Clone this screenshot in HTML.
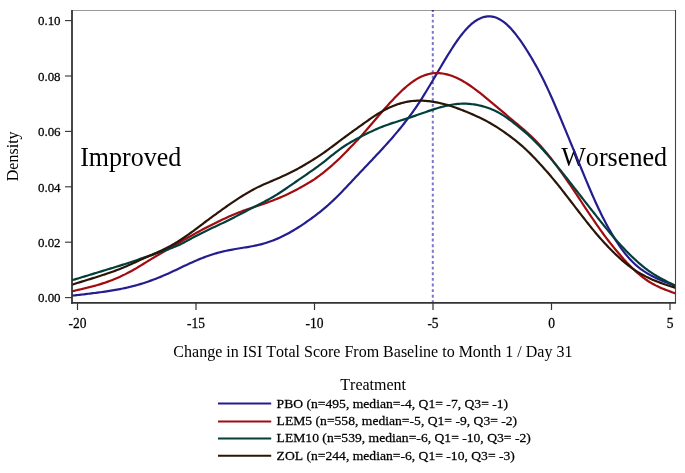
<!DOCTYPE html>
<html><head><meta charset="utf-8"><style>
html,body{margin:0;padding:0;background:#fff;width:685px;height:473px;overflow:hidden}
svg{display:block;will-change:transform}
.b{stroke:#000;stroke-width:0.25px}
.t{font-family:"Liberation Serif",serif;fill:#000;font-kerning:none}
</style></head><body>
<svg width="685" height="473" viewBox="0 0 685 473">
<rect width="685" height="473" fill="#fff"/>
<defs><clipPath id="c"><rect x="72" y="10" width="603.5" height="293"/></clipPath></defs>
<line x1="432.8" y1="10" x2="432.8" y2="303" stroke="#7a76cc" stroke-width="2" stroke-dasharray="2.9,2.714" stroke-dashoffset="1.56"/>
<text transform="translate(80.2,165.5) scale(1,1.035)" font-size="26" class="t">Improved</text>
<text transform="translate(561.2,165.5) scale(1.005,1.035)" font-size="26" class="t">Worsened</text>
<g clip-path="url(#c)" fill="none" stroke-width="2.2" stroke-linejoin="round">
<path d="M71.0,295.78 L72.0,295.67 L73.5,295.50 L75.0,295.33 L76.5,295.16 L78.0,294.99 L79.5,294.82 L81.0,294.65 L82.5,294.47 L84.0,294.30 L85.5,294.12 L87.0,293.94 L88.5,293.76 L90.0,293.58 L91.5,293.39 L93.0,293.21 L94.5,293.02 L96.0,292.82 L97.5,292.63 L99.0,292.43 L100.5,292.22 L102.0,292.02 L103.5,291.81 L105.0,291.59 L106.5,291.37 L108.0,291.14 L109.5,290.91 L111.0,290.67 L112.5,290.42 L114.0,290.17 L115.5,289.91 L117.0,289.64 L118.5,289.36 L120.0,289.08 L121.5,288.78 L123.0,288.48 L124.5,288.16 L126.0,287.84 L127.5,287.51 L129.0,287.16 L130.5,286.80 L132.0,286.43 L133.5,286.04 L135.0,285.64 L136.5,285.22 L138.0,284.80 L139.5,284.36 L141.0,283.90 L142.5,283.44 L144.0,282.96 L145.5,282.46 L147.0,281.96 L148.5,281.44 L150.0,280.91 L151.5,280.37 L153.0,279.82 L154.5,279.25 L156.0,278.68 L157.5,278.09 L159.0,277.49 L160.5,276.87 L162.0,276.25 L163.5,275.61 L165.0,274.96 L166.5,274.30 L168.0,273.63 L169.5,272.94 L171.0,272.26 L172.5,271.56 L174.0,270.86 L175.5,270.15 L177.0,269.44 L178.5,268.72 L180.0,268.01 L181.5,267.29 L183.0,266.58 L184.5,265.86 L186.0,265.16 L187.5,264.45 L189.0,263.75 L190.5,263.06 L192.0,262.38 L193.5,261.71 L195.0,261.05 L196.5,260.40 L198.0,259.76 L199.5,259.14 L201.0,258.53 L202.5,257.93 L204.0,257.35 L205.5,256.79 L207.0,256.24 L208.5,255.71 L210.0,255.20 L211.5,254.71 L213.0,254.23 L214.5,253.77 L216.0,253.33 L217.5,252.91 L219.0,252.50 L220.5,252.11 L222.0,251.74 L223.5,251.39 L225.0,251.05 L226.5,250.72 L228.0,250.41 L229.5,250.11 L231.0,249.83 L232.5,249.55 L234.0,249.28 L235.5,249.02 L237.0,248.76 L238.5,248.51 L240.0,248.26 L241.5,248.01 L243.0,247.77 L244.5,247.53 L246.0,247.29 L247.5,247.04 L249.0,246.79 L250.5,246.53 L252.0,246.26 L253.5,245.98 L255.0,245.68 L256.5,245.37 L258.0,245.04 L259.5,244.68 L261.0,244.31 L262.5,243.91 L264.0,243.49 L265.5,243.04 L267.0,242.58 L268.5,242.08 L270.0,241.57 L271.5,241.03 L273.0,240.47 L274.5,239.88 L276.0,239.27 L277.5,238.63 L279.0,237.97 L280.5,237.29 L282.0,236.58 L283.5,235.85 L285.0,235.09 L286.5,234.31 L288.0,233.51 L289.5,232.68 L291.0,231.83 L292.5,230.96 L294.0,230.07 L295.5,229.16 L297.0,228.23 L298.5,227.28 L300.0,226.31 L301.5,225.32 L303.0,224.32 L304.5,223.30 L306.0,222.27 L307.5,221.22 L309.0,220.16 L310.5,219.08 L312.0,217.99 L313.5,216.89 L315.0,215.77 L316.5,214.63 L318.0,213.47 L319.5,212.29 L321.0,211.10 L322.5,209.88 L324.0,208.63 L325.5,207.36 L327.0,206.06 L328.5,204.74 L330.0,203.38 L331.5,202.00 L333.0,200.59 L334.5,199.16 L336.0,197.70 L337.5,196.22 L339.0,194.72 L340.5,193.20 L342.0,191.67 L343.5,190.11 L345.0,188.54 L346.5,186.96 L348.0,185.37 L349.5,183.78 L351.0,182.18 L352.5,180.57 L354.0,178.97 L355.5,177.37 L357.0,175.77 L358.5,174.17 L360.0,172.57 L361.5,170.98 L363.0,169.39 L364.5,167.81 L366.0,166.22 L367.5,164.64 L369.0,163.06 L370.5,161.48 L372.0,159.90 L373.5,158.31 L375.0,156.71 L376.5,155.11 L378.0,153.51 L379.5,151.89 L381.0,150.28 L382.5,148.66 L384.0,147.02 L385.5,145.38 L387.0,143.72 L388.5,142.05 L390.0,140.36 L391.5,138.65 L393.0,136.92 L394.5,135.16 L396.0,133.39 L397.5,131.60 L399.0,129.78 L400.5,127.95 L402.0,126.09 L403.5,124.21 L405.0,122.30 L406.5,120.37 L408.0,118.40 L409.5,116.40 L411.0,114.37 L412.5,112.30 L414.0,110.19 L415.5,108.04 L417.0,105.84 L418.5,103.59 L420.0,101.31 L421.5,98.97 L423.0,96.60 L424.5,94.19 L426.0,91.74 L427.5,89.27 L429.0,86.78 L430.5,84.26 L432.0,81.73 L433.5,79.19 L435.0,76.64 L436.5,74.08 L438.0,71.53 L439.5,68.98 L441.0,66.44 L442.5,63.91 L444.0,61.40 L445.5,58.91 L447.0,56.44 L448.5,53.99 L450.0,51.59 L451.5,49.22 L453.0,46.90 L454.5,44.62 L456.0,42.41 L457.5,40.25 L459.0,38.16 L460.5,36.15 L462.0,34.21 L463.5,32.36 L465.0,30.59 L466.5,28.91 L468.0,27.33 L469.5,25.85 L471.0,24.46 L472.5,23.18 L474.0,22.01 L475.5,20.95 L477.0,19.99 L478.5,19.15 L480.0,18.41 L481.5,17.79 L483.0,17.28 L484.5,16.88 L486.0,16.60 L487.5,16.43 L489.0,16.37 L490.5,16.43 L492.0,16.61 L493.5,16.90 L495.0,17.31 L496.5,17.83 L498.0,18.47 L499.5,19.23 L501.0,20.10 L502.5,21.08 L504.0,22.17 L505.5,23.37 L507.0,24.68 L508.5,26.10 L510.0,27.61 L511.5,29.23 L513.0,30.93 L514.5,32.73 L516.0,34.61 L517.5,36.57 L519.0,38.60 L520.5,40.70 L522.0,42.87 L523.5,45.09 L525.0,47.38 L526.5,49.72 L528.0,52.11 L529.5,54.56 L531.0,57.05 L532.5,59.60 L534.0,62.20 L535.5,64.85 L537.0,67.57 L538.5,70.34 L540.0,73.18 L541.5,76.09 L543.0,79.06 L544.5,82.10 L546.0,85.21 L547.5,88.39 L549.0,91.64 L550.5,94.94 L552.0,98.31 L553.5,101.73 L555.0,105.20 L556.5,108.70 L558.0,112.23 L559.5,115.80 L561.0,119.38 L562.5,122.97 L564.0,126.58 L565.5,130.19 L567.0,133.81 L568.5,137.44 L570.0,141.07 L571.5,144.72 L573.0,148.36 L574.5,152.01 L576.0,155.67 L577.5,159.32 L579.0,162.98 L580.5,166.64 L582.0,170.29 L583.5,173.93 L585.0,177.55 L586.5,181.15 L588.0,184.72 L589.5,188.26 L591.0,191.75 L592.5,195.20 L594.0,198.59 L595.5,201.93 L597.0,205.21 L598.5,208.42 L600.0,211.57 L601.5,214.65 L603.0,217.66 L604.5,220.60 L606.0,223.47 L607.5,226.26 L609.0,228.97 L610.5,231.62 L612.0,234.18 L613.5,236.68 L615.0,239.09 L616.5,241.44 L618.0,243.71 L619.5,245.91 L621.0,248.04 L622.5,250.09 L624.0,252.07 L625.5,253.98 L627.0,255.80 L628.5,257.55 L630.0,259.21 L631.5,260.80 L633.0,262.31 L634.5,263.74 L636.0,265.10 L637.5,266.39 L639.0,267.62 L640.5,268.78 L642.0,269.88 L643.5,270.93 L645.0,271.92 L646.5,272.87 L648.0,273.77 L649.5,274.64 L651.0,275.46 L652.5,276.25 L654.0,277.01 L655.5,277.74 L657.0,278.45 L658.5,279.13 L660.0,279.79 L661.5,280.43 L663.0,281.05 L664.5,281.66 L666.0,282.26 L667.5,282.84 L669.0,283.42 L670.5,283.99 L672.0,284.55 L673.5,285.12 L675.0,285.68 L676.5,286.24" stroke="#231d8e"/>
<path d="M71.0,291.55 L72.0,291.32 L73.5,290.98 L75.0,290.63 L76.5,290.29 L78.0,289.94 L79.5,289.59 L81.0,289.24 L82.5,288.89 L84.0,288.53 L85.5,288.17 L87.0,287.80 L88.5,287.43 L90.0,287.05 L91.5,286.66 L93.0,286.26 L94.5,285.86 L96.0,285.44 L97.5,285.01 L99.0,284.57 L100.5,284.12 L102.0,283.65 L103.5,283.17 L105.0,282.67 L106.5,282.16 L108.0,281.63 L109.5,281.08 L111.0,280.52 L112.5,279.94 L114.0,279.34 L115.5,278.73 L117.0,278.09 L118.5,277.43 L120.0,276.76 L121.5,276.07 L123.0,275.35 L124.5,274.62 L126.0,273.87 L127.5,273.10 L129.0,272.31 L130.5,271.50 L132.0,270.67 L133.5,269.82 L135.0,268.96 L136.5,268.08 L138.0,267.19 L139.5,266.29 L141.0,265.37 L142.5,264.45 L144.0,263.52 L145.5,262.60 L147.0,261.68 L148.5,260.76 L150.0,259.84 L151.5,258.93 L153.0,258.02 L154.5,257.12 L156.0,256.23 L157.5,255.35 L159.0,254.47 L160.5,253.61 L162.0,252.74 L163.5,251.88 L165.0,251.02 L166.5,250.15 L168.0,249.28 L169.5,248.41 L171.0,247.54 L172.5,246.66 L174.0,245.78 L175.5,244.91 L177.0,244.03 L178.5,243.15 L180.0,242.26 L181.5,241.39 L183.0,240.51 L184.5,239.64 L186.0,238.77 L187.5,237.91 L189.0,237.05 L190.5,236.19 L192.0,235.34 L193.5,234.50 L195.0,233.66 L196.5,232.83 L198.0,232.01 L199.5,231.19 L201.0,230.38 L202.5,229.58 L204.0,228.78 L205.5,227.99 L207.0,227.21 L208.5,226.44 L210.0,225.68 L211.5,224.92 L213.0,224.17 L214.5,223.44 L216.0,222.70 L217.5,221.98 L219.0,221.26 L220.5,220.54 L222.0,219.81 L223.5,219.10 L225.0,218.39 L226.5,217.69 L228.0,217.01 L229.5,216.33 L231.0,215.67 L232.5,215.03 L234.0,214.39 L235.5,213.78 L237.0,213.18 L238.5,212.59 L240.0,212.02 L241.5,211.45 L243.0,210.90 L244.5,210.36 L246.0,209.83 L247.5,209.30 L249.0,208.78 L250.5,208.26 L252.0,207.75 L253.5,207.24 L255.0,206.74 L256.5,206.23 L258.0,205.73 L259.5,205.22 L261.0,204.71 L262.5,204.20 L264.0,203.68 L265.5,203.16 L267.0,202.63 L268.5,202.09 L270.0,201.54 L271.5,200.98 L273.0,200.41 L274.5,199.83 L276.0,199.24 L277.5,198.63 L279.0,198.01 L280.5,197.38 L282.0,196.73 L283.5,196.06 L285.0,195.38 L286.5,194.68 L288.0,193.97 L289.5,193.24 L291.0,192.51 L292.5,191.75 L294.0,190.99 L295.5,190.21 L297.0,189.42 L298.5,188.61 L300.0,187.80 L301.5,186.97 L303.0,186.14 L304.5,185.29 L306.0,184.42 L307.5,183.54 L309.0,182.64 L310.5,181.72 L312.0,180.77 L313.5,179.80 L315.0,178.79 L316.5,177.76 L318.0,176.70 L319.5,175.61 L321.0,174.49 L322.5,173.34 L324.0,172.16 L325.5,170.95 L327.0,169.72 L328.5,168.46 L330.0,167.17 L331.5,165.86 L333.0,164.52 L334.5,163.16 L336.0,161.77 L337.5,160.36 L339.0,158.92 L340.5,157.45 L342.0,155.97 L343.5,154.46 L345.0,152.94 L346.5,151.41 L348.0,149.87 L349.5,148.33 L351.0,146.78 L352.5,145.23 L354.0,143.67 L355.5,142.11 L357.0,140.52 L358.5,138.92 L360.0,137.30 L361.5,135.65 L363.0,133.97 L364.5,132.27 L366.0,130.54 L367.5,128.80 L369.0,127.05 L370.5,125.29 L372.0,123.53 L373.5,121.77 L375.0,120.01 L376.5,118.25 L378.0,116.49 L379.5,114.73 L381.0,112.98 L382.5,111.25 L384.0,109.53 L385.5,107.83 L387.0,106.15 L388.5,104.49 L390.0,102.85 L391.5,101.23 L393.0,99.63 L394.5,98.05 L396.0,96.50 L397.5,94.96 L399.0,93.46 L400.5,91.99 L402.0,90.56 L403.5,89.17 L405.0,87.82 L406.5,86.51 L408.0,85.26 L409.5,84.05 L411.0,82.91 L412.5,81.81 L414.0,80.78 L415.5,79.81 L417.0,78.90 L418.5,78.05 L420.0,77.27 L421.5,76.56 L423.0,75.91 L424.5,75.34 L426.0,74.82 L427.5,74.38 L429.0,74.00 L430.5,73.69 L432.0,73.45 L433.5,73.27 L435.0,73.16 L436.5,73.11 L438.0,73.12 L439.5,73.19 L441.0,73.33 L442.5,73.52 L444.0,73.77 L445.5,74.07 L447.0,74.42 L448.5,74.83 L450.0,75.29 L451.5,75.79 L453.0,76.34 L454.5,76.94 L456.0,77.58 L457.5,78.27 L459.0,79.00 L460.5,79.77 L462.0,80.59 L463.5,81.44 L465.0,82.34 L466.5,83.27 L468.0,84.24 L469.5,85.24 L471.0,86.27 L472.5,87.33 L474.0,88.42 L475.5,89.53 L477.0,90.67 L478.5,91.82 L480.0,92.99 L481.5,94.18 L483.0,95.38 L484.5,96.59 L486.0,97.82 L487.5,99.05 L489.0,100.29 L490.5,101.53 L492.0,102.78 L493.5,104.04 L495.0,105.30 L496.5,106.57 L498.0,107.84 L499.5,109.11 L501.0,110.38 L502.5,111.65 L504.0,112.93 L505.5,114.20 L507.0,115.47 L508.5,116.74 L510.0,117.99 L511.5,119.25 L513.0,120.49 L514.5,121.74 L516.0,122.98 L517.5,124.22 L519.0,125.48 L520.5,126.74 L522.0,128.02 L523.5,129.31 L525.0,130.63 L526.5,131.96 L528.0,133.32 L529.5,134.71 L531.0,136.12 L532.5,137.56 L534.0,139.04 L535.5,140.55 L537.0,142.10 L538.5,143.68 L540.0,145.30 L541.5,146.96 L543.0,148.66 L544.5,150.41 L546.0,152.19 L547.5,154.01 L549.0,155.86 L550.5,157.76 L552.0,159.68 L553.5,161.65 L555.0,163.64 L556.5,165.66 L558.0,167.70 L559.5,169.76 L561.0,171.85 L562.5,173.95 L564.0,176.07 L565.5,178.21 L567.0,180.37 L568.5,182.55 L570.0,184.74 L571.5,186.95 L573.0,189.18 L574.5,191.42 L576.0,193.67 L577.5,195.93 L579.0,198.20 L580.5,200.48 L582.0,202.75 L583.5,205.02 L585.0,207.29 L586.5,209.55 L588.0,211.80 L589.5,214.05 L591.0,216.28 L592.5,218.51 L594.0,220.72 L595.5,222.91 L597.0,225.08 L598.5,227.23 L600.0,229.35 L601.5,231.44 L603.0,233.51 L604.5,235.55 L606.0,237.56 L607.5,239.53 L609.0,241.48 L610.5,243.40 L612.0,245.29 L613.5,247.15 L615.0,248.98 L616.5,250.79 L618.0,252.56 L619.5,254.31 L621.0,256.03 L622.5,257.72 L624.0,259.38 L625.5,261.02 L627.0,262.64 L628.5,264.23 L630.0,265.78 L631.5,267.31 L633.0,268.79 L634.5,270.23 L636.0,271.63 L637.5,272.97 L639.0,274.27 L640.5,275.52 L642.0,276.72 L643.5,277.87 L645.0,278.97 L646.5,280.02 L648.0,281.03 L649.5,281.98 L651.0,282.89 L652.5,283.76 L654.0,284.58 L655.5,285.37 L657.0,286.11 L658.5,286.83 L660.0,287.51 L661.5,288.16 L663.0,288.78 L664.5,289.39 L666.0,289.97 L667.5,290.53 L669.0,291.08 L670.5,291.62 L672.0,292.16 L673.5,292.68 L675.0,293.21 L676.5,293.74" stroke="#a00c10"/>
<path d="M71.0,280.56 L72.0,280.26 L73.5,279.80 L75.0,279.35 L76.5,278.89 L78.0,278.44 L79.5,277.98 L81.0,277.53 L82.5,277.07 L84.0,276.61 L85.5,276.16 L87.0,275.70 L88.5,275.24 L90.0,274.78 L91.5,274.33 L93.0,273.87 L94.5,273.41 L96.0,272.95 L97.5,272.50 L99.0,272.04 L100.5,271.59 L102.0,271.13 L103.5,270.67 L105.0,270.22 L106.5,269.76 L108.0,269.31 L109.5,268.85 L111.0,268.40 L112.5,267.94 L114.0,267.48 L115.5,267.02 L117.0,266.55 L118.5,266.09 L120.0,265.62 L121.5,265.14 L123.0,264.66 L124.5,264.18 L126.0,263.69 L127.5,263.19 L129.0,262.70 L130.5,262.20 L132.0,261.69 L133.5,261.19 L135.0,260.68 L136.5,260.17 L138.0,259.67 L139.5,259.16 L141.0,258.65 L142.5,258.15 L144.0,257.65 L145.5,257.14 L147.0,256.64 L148.5,256.14 L150.0,255.63 L151.5,255.12 L153.0,254.60 L154.5,254.09 L156.0,253.57 L157.5,253.05 L159.0,252.54 L160.5,252.02 L162.0,251.50 L163.5,250.97 L165.0,250.44 L166.5,249.91 L168.0,249.36 L169.5,248.81 L171.0,248.24 L172.5,247.66 L174.0,247.07 L175.5,246.45 L177.0,245.80 L178.5,245.13 L180.0,244.43 L181.5,243.71 L183.0,242.95 L184.5,242.18 L186.0,241.39 L187.5,240.59 L189.0,239.78 L190.5,238.97 L192.0,238.15 L193.5,237.34 L195.0,236.54 L196.5,235.74 L198.0,234.96 L199.5,234.18 L201.0,233.41 L202.5,232.65 L204.0,231.90 L205.5,231.16 L207.0,230.43 L208.5,229.71 L210.0,229.00 L211.5,228.30 L213.0,227.60 L214.5,226.90 L216.0,226.20 L217.5,225.50 L219.0,224.80 L220.5,224.09 L222.0,223.37 L223.5,222.65 L225.0,221.92 L226.5,221.18 L228.0,220.44 L229.5,219.69 L231.0,218.94 L232.5,218.18 L234.0,217.41 L235.5,216.64 L237.0,215.86 L238.5,215.09 L240.0,214.30 L241.5,213.52 L243.0,212.73 L244.5,211.95 L246.0,211.16 L247.5,210.37 L249.0,209.58 L250.5,208.80 L252.0,208.02 L253.5,207.24 L255.0,206.47 L256.5,205.70 L258.0,204.93 L259.5,204.17 L261.0,203.40 L262.5,202.63 L264.0,201.86 L265.5,201.08 L267.0,200.28 L268.5,199.48 L270.0,198.65 L271.5,197.81 L273.0,196.94 L274.5,196.05 L276.0,195.14 L277.5,194.20 L279.0,193.24 L280.5,192.26 L282.0,191.27 L283.5,190.26 L285.0,189.25 L286.5,188.22 L288.0,187.20 L289.5,186.17 L291.0,185.13 L292.5,184.10 L294.0,183.06 L295.5,182.02 L297.0,180.99 L298.5,179.95 L300.0,178.92 L301.5,177.89 L303.0,176.85 L304.5,175.82 L306.0,174.79 L307.5,173.76 L309.0,172.72 L310.5,171.67 L312.0,170.62 L313.5,169.56 L315.0,168.49 L316.5,167.41 L318.0,166.32 L319.5,165.21 L321.0,164.08 L322.5,162.94 L324.0,161.77 L325.5,160.58 L327.0,159.37 L328.5,158.16 L330.0,156.94 L331.5,155.73 L333.0,154.52 L334.5,153.33 L336.0,152.16 L337.5,151.02 L339.0,149.91 L340.5,148.82 L342.0,147.76 L343.5,146.74 L345.0,145.74 L346.5,144.77 L348.0,143.84 L349.5,142.94 L351.0,142.06 L352.5,141.20 L354.0,140.37 L355.5,139.55 L357.0,138.74 L358.5,137.95 L360.0,137.16 L361.5,136.38 L363.0,135.61 L364.5,134.85 L366.0,134.09 L367.5,133.34 L369.0,132.60 L370.5,131.87 L372.0,131.16 L373.5,130.46 L375.0,129.78 L376.5,129.12 L378.0,128.48 L379.5,127.85 L381.0,127.24 L382.5,126.64 L384.0,126.07 L385.5,125.51 L387.0,124.96 L388.5,124.43 L390.0,123.91 L391.5,123.41 L393.0,122.92 L394.5,122.43 L396.0,121.95 L397.5,121.48 L399.0,121.00 L400.5,120.53 L402.0,120.06 L403.5,119.58 L405.0,119.10 L406.5,118.62 L408.0,118.13 L409.5,117.63 L411.0,117.13 L412.5,116.62 L414.0,116.11 L415.5,115.60 L417.0,115.08 L418.5,114.56 L420.0,114.03 L421.5,113.51 L423.0,112.98 L424.5,112.45 L426.0,111.93 L427.5,111.41 L429.0,110.89 L430.5,110.38 L432.0,109.88 L433.5,109.38 L435.0,108.90 L436.5,108.44 L438.0,107.98 L439.5,107.55 L441.0,107.12 L442.5,106.72 L444.0,106.33 L445.5,105.96 L447.0,105.62 L448.5,105.29 L450.0,104.99 L451.5,104.72 L453.0,104.48 L454.5,104.27 L456.0,104.09 L457.5,103.94 L459.0,103.83 L460.5,103.74 L462.0,103.69 L463.5,103.67 L465.0,103.68 L466.5,103.72 L468.0,103.80 L469.5,103.91 L471.0,104.04 L472.5,104.22 L474.0,104.42 L475.5,104.66 L477.0,104.93 L478.5,105.23 L480.0,105.56 L481.5,105.92 L483.0,106.32 L484.5,106.75 L486.0,107.21 L487.5,107.71 L489.0,108.24 L490.5,108.81 L492.0,109.42 L493.5,110.07 L495.0,110.77 L496.5,111.50 L498.0,112.29 L499.5,113.12 L501.0,113.99 L502.5,114.91 L504.0,115.87 L505.5,116.87 L507.0,117.91 L508.5,118.98 L510.0,120.08 L511.5,121.20 L513.0,122.35 L514.5,123.52 L516.0,124.70 L517.5,125.90 L519.0,127.11 L520.5,128.34 L522.0,129.58 L523.5,130.85 L525.0,132.14 L526.5,133.46 L528.0,134.80 L529.5,136.16 L531.0,137.56 L532.5,138.98 L534.0,140.44 L535.5,141.92 L537.0,143.44 L538.5,144.99 L540.0,146.56 L541.5,148.17 L543.0,149.81 L544.5,151.47 L546.0,153.16 L547.5,154.87 L549.0,156.60 L550.5,158.35 L552.0,160.11 L553.5,161.90 L555.0,163.70 L556.5,165.52 L558.0,167.34 L559.5,169.18 L561.0,171.03 L562.5,172.88 L564.0,174.75 L565.5,176.63 L567.0,178.52 L568.5,180.41 L570.0,182.32 L571.5,184.23 L573.0,186.15 L574.5,188.08 L576.0,190.00 L577.5,191.93 L579.0,193.86 L580.5,195.79 L582.0,197.72 L583.5,199.65 L585.0,201.57 L586.5,203.49 L588.0,205.40 L589.5,207.31 L591.0,209.22 L592.5,211.13 L594.0,213.03 L595.5,214.94 L597.0,216.83 L598.5,218.73 L600.0,220.62 L601.5,222.50 L603.0,224.37 L604.5,226.24 L606.0,228.09 L607.5,229.92 L609.0,231.73 L610.5,233.52 L612.0,235.29 L613.5,237.03 L615.0,238.75 L616.5,240.45 L618.0,242.12 L619.5,243.77 L621.0,245.40 L622.5,247.01 L624.0,248.59 L625.5,250.15 L627.0,251.69 L628.5,253.21 L630.0,254.70 L631.5,256.17 L633.0,257.61 L634.5,259.02 L636.0,260.41 L637.5,261.77 L639.0,263.09 L640.5,264.39 L642.0,265.64 L643.5,266.86 L645.0,268.04 L646.5,269.19 L648.0,270.30 L649.5,271.37 L651.0,272.40 L652.5,273.40 L654.0,274.36 L655.5,275.29 L657.0,276.20 L658.5,277.07 L660.0,277.92 L661.5,278.74 L663.0,279.54 L664.5,280.33 L666.0,281.10 L667.5,281.86 L669.0,282.61 L670.5,283.34 L672.0,284.08 L673.5,284.81 L675.0,285.53 L676.5,286.26" stroke="#023f3b"/>
<path d="M71.0,284.96 L72.0,284.65 L73.5,284.19 L75.0,283.73 L76.5,283.27 L78.0,282.80 L79.5,282.34 L81.0,281.88 L82.5,281.42 L84.0,280.95 L85.5,280.49 L87.0,280.03 L88.5,279.56 L90.0,279.10 L91.5,278.63 L93.0,278.17 L94.5,277.70 L96.0,277.23 L97.5,276.75 L99.0,276.28 L100.5,275.80 L102.0,275.31 L103.5,274.82 L105.0,274.33 L106.5,273.83 L108.0,273.32 L109.5,272.81 L111.0,272.28 L112.5,271.75 L114.0,271.20 L115.5,270.65 L117.0,270.08 L118.5,269.50 L120.0,268.91 L121.5,268.31 L123.0,267.69 L124.5,267.06 L126.0,266.42 L127.5,265.77 L129.0,265.10 L130.5,264.43 L132.0,263.75 L133.5,263.07 L135.0,262.38 L136.5,261.69 L138.0,261.00 L139.5,260.30 L141.0,259.61 L142.5,258.92 L144.0,258.24 L145.5,257.56 L147.0,256.89 L148.5,256.23 L150.0,255.57 L151.5,254.91 L153.0,254.25 L154.5,253.59 L156.0,252.93 L157.5,252.27 L159.0,251.59 L160.5,250.92 L162.0,250.22 L163.5,249.51 L165.0,248.78 L166.5,248.03 L168.0,247.25 L169.5,246.46 L171.0,245.64 L172.5,244.80 L174.0,243.93 L175.5,243.05 L177.0,242.14 L178.5,241.21 L180.0,240.26 L181.5,239.29 L183.0,238.29 L184.5,237.27 L186.0,236.23 L187.5,235.18 L189.0,234.10 L190.5,233.01 L192.0,231.91 L193.5,230.80 L195.0,229.67 L196.5,228.54 L198.0,227.41 L199.5,226.28 L201.0,225.14 L202.5,224.01 L204.0,222.88 L205.5,221.75 L207.0,220.63 L208.5,219.51 L210.0,218.41 L211.5,217.30 L213.0,216.21 L214.5,215.12 L216.0,214.04 L217.5,212.96 L219.0,211.88 L220.5,210.81 L222.0,209.73 L223.5,208.66 L225.0,207.59 L226.5,206.52 L228.0,205.45 L229.5,204.40 L231.0,203.36 L232.5,202.33 L234.0,201.31 L235.5,200.31 L237.0,199.33 L238.5,198.36 L240.0,197.41 L241.5,196.47 L243.0,195.54 L244.5,194.63 L246.0,193.73 L247.5,192.84 L249.0,191.97 L250.5,191.11 L252.0,190.27 L253.5,189.45 L255.0,188.65 L256.5,187.88 L258.0,187.12 L259.5,186.40 L261.0,185.69 L262.5,185.01 L264.0,184.34 L265.5,183.69 L267.0,183.04 L268.5,182.40 L270.0,181.76 L271.5,181.12 L273.0,180.48 L274.5,179.84 L276.0,179.20 L277.5,178.55 L279.0,177.89 L280.5,177.22 L282.0,176.55 L283.5,175.86 L285.0,175.17 L286.5,174.47 L288.0,173.75 L289.5,173.03 L291.0,172.29 L292.5,171.53 L294.0,170.76 L295.5,169.98 L297.0,169.17 L298.5,168.35 L300.0,167.52 L301.5,166.67 L303.0,165.81 L304.5,164.94 L306.0,164.06 L307.5,163.16 L309.0,162.25 L310.5,161.34 L312.0,160.41 L313.5,159.48 L315.0,158.53 L316.5,157.57 L318.0,156.61 L319.5,155.63 L321.0,154.63 L322.5,153.61 L324.0,152.58 L325.5,151.52 L327.0,150.44 L328.5,149.35 L330.0,148.24 L331.5,147.13 L333.0,146.00 L334.5,144.88 L336.0,143.75 L337.5,142.62 L339.0,141.49 L340.5,140.37 L342.0,139.24 L343.5,138.12 L345.0,137.00 L346.5,135.89 L348.0,134.79 L349.5,133.69 L351.0,132.60 L352.5,131.51 L354.0,130.43 L355.5,129.35 L357.0,128.27 L358.5,127.20 L360.0,126.12 L361.5,125.05 L363.0,123.98 L364.5,122.92 L366.0,121.86 L367.5,120.81 L369.0,119.76 L370.5,118.72 L372.0,117.70 L373.5,116.69 L375.0,115.70 L376.5,114.74 L378.0,113.80 L379.5,112.88 L381.0,112.00 L382.5,111.14 L384.0,110.31 L385.5,109.51 L387.0,108.74 L388.5,108.01 L390.0,107.31 L391.5,106.64 L393.0,106.01 L394.5,105.41 L396.0,104.85 L397.5,104.33 L399.0,103.84 L400.5,103.39 L402.0,102.97 L403.5,102.59 L405.0,102.24 L406.5,101.93 L408.0,101.65 L409.5,101.41 L411.0,101.20 L412.5,101.03 L414.0,100.89 L415.5,100.78 L417.0,100.71 L418.5,100.67 L420.0,100.66 L421.5,100.67 L423.0,100.72 L424.5,100.80 L426.0,100.91 L427.5,101.04 L429.0,101.20 L430.5,101.38 L432.0,101.59 L433.5,101.83 L435.0,102.08 L436.5,102.37 L438.0,102.67 L439.5,102.99 L441.0,103.34 L442.5,103.70 L444.0,104.09 L445.5,104.49 L447.0,104.91 L448.5,105.35 L450.0,105.81 L451.5,106.28 L453.0,106.77 L454.5,107.28 L456.0,107.81 L457.5,108.34 L459.0,108.90 L460.5,109.46 L462.0,110.04 L463.5,110.62 L465.0,111.22 L466.5,111.83 L468.0,112.45 L469.5,113.08 L471.0,113.72 L472.5,114.37 L474.0,115.03 L475.5,115.71 L477.0,116.40 L478.5,117.10 L480.0,117.81 L481.5,118.54 L483.0,119.29 L484.5,120.05 L486.0,120.83 L487.5,121.64 L489.0,122.47 L490.5,123.32 L492.0,124.19 L493.5,125.08 L495.0,126.00 L496.5,126.94 L498.0,127.90 L499.5,128.88 L501.0,129.88 L502.5,130.90 L504.0,131.93 L505.5,132.98 L507.0,134.05 L508.5,135.14 L510.0,136.25 L511.5,137.38 L513.0,138.53 L514.5,139.70 L516.0,140.89 L517.5,142.11 L519.0,143.35 L520.5,144.62 L522.0,145.92 L523.5,147.25 L525.0,148.61 L526.5,150.00 L528.0,151.43 L529.5,152.89 L531.0,154.38 L532.5,155.90 L534.0,157.45 L535.5,159.03 L537.0,160.64 L538.5,162.26 L540.0,163.90 L541.5,165.55 L543.0,167.22 L544.5,168.91 L546.0,170.61 L547.5,172.33 L549.0,174.07 L550.5,175.83 L552.0,177.61 L553.5,179.40 L555.0,181.22 L556.5,183.06 L558.0,184.92 L559.5,186.80 L561.0,188.69 L562.5,190.61 L564.0,192.53 L565.5,194.46 L567.0,196.40 L568.5,198.34 L570.0,200.29 L571.5,202.24 L573.0,204.19 L574.5,206.14 L576.0,208.08 L577.5,210.02 L579.0,211.95 L580.5,213.88 L582.0,215.81 L583.5,217.73 L585.0,219.66 L586.5,221.57 L588.0,223.48 L589.5,225.37 L591.0,227.24 L592.5,229.10 L594.0,230.92 L595.5,232.72 L597.0,234.49 L598.5,236.24 L600.0,237.95 L601.5,239.64 L603.0,241.30 L604.5,242.94 L606.0,244.55 L607.5,246.13 L609.0,247.69 L610.5,249.23 L612.0,250.74 L613.5,252.23 L615.0,253.70 L616.5,255.14 L618.0,256.55 L619.5,257.93 L621.0,259.28 L622.5,260.60 L624.0,261.88 L625.5,263.13 L627.0,264.35 L628.5,265.53 L630.0,266.67 L631.5,267.78 L633.0,268.85 L634.5,269.89 L636.0,270.88 L637.5,271.85 L639.0,272.77 L640.5,273.66 L642.0,274.51 L643.5,275.33 L645.0,276.12 L646.5,276.88 L648.0,277.61 L649.5,278.32 L651.0,279.00 L652.5,279.65 L654.0,280.28 L655.5,280.89 L657.0,281.48 L658.5,282.05 L660.0,282.61 L661.5,283.15 L663.0,283.68 L664.5,284.19 L666.0,284.70 L667.5,285.20 L669.0,285.70 L670.5,286.19 L672.0,286.67 L673.5,287.16 L675.0,287.65 L676.5,288.13" stroke="#2a1506"/>
</g>
<line x1="72" y1="10.5" x2="676" y2="10.5" stroke="#999" stroke-width="1"/>
<line x1="675.5" y1="10" x2="675.5" y2="303" stroke="#444" stroke-width="1.1"/>
<line x1="72" y1="10" x2="72" y2="303.7" stroke="#333" stroke-width="1.8"/>
<line x1="71.1" y1="302.8" x2="676" y2="302.8" stroke="#333" stroke-width="1.8"/>
<rect x="431.8" y="10" width="2" height="1.6" fill="#34308a"/>
<line x1="65" y1="297.6" x2="72" y2="297.6" stroke="#333" stroke-width="1.1"/>
<text transform="translate(60.6,302.4) scale(0.96,1.0001)" font-size="13.5" text-anchor="end" class="t b">0.00</text>
<line x1="65" y1="242.2" x2="72" y2="242.2" stroke="#333" stroke-width="1.1"/>
<text transform="translate(60.6,247.0) scale(0.96,1.0001)" font-size="13.5" text-anchor="end" class="t b">0.02</text>
<line x1="65" y1="186.8" x2="72" y2="186.8" stroke="#333" stroke-width="1.1"/>
<text transform="translate(60.6,191.6) scale(0.96,1.0001)" font-size="13.5" text-anchor="end" class="t b">0.04</text>
<line x1="65" y1="131.4" x2="72" y2="131.4" stroke="#333" stroke-width="1.1"/>
<text transform="translate(60.6,136.2) scale(0.96,1.0001)" font-size="13.5" text-anchor="end" class="t b">0.06</text>
<line x1="65" y1="76.0" x2="72" y2="76.0" stroke="#333" stroke-width="1.1"/>
<text transform="translate(60.6,80.8) scale(0.96,1.0001)" font-size="13.5" text-anchor="end" class="t b">0.08</text>
<line x1="65" y1="20.6" x2="72" y2="20.6" stroke="#333" stroke-width="1.1"/>
<text transform="translate(60.6,25.4) scale(0.96,1.0001)" font-size="13.5" text-anchor="end" class="t b">0.10</text>
<line x1="77.5" y1="303" x2="77.5" y2="310" stroke="#333" stroke-width="1.2"/>
<text transform="translate(77.5,328.3) scale(1,1.03)" font-size="13.5" text-anchor="middle" class="t b">-20</text>
<line x1="196.0" y1="303" x2="196.0" y2="310" stroke="#333" stroke-width="1.2"/>
<text transform="translate(196.0,328.3) scale(1,1.03)" font-size="13.5" text-anchor="middle" class="t b">-15</text>
<line x1="314.5" y1="303" x2="314.5" y2="310" stroke="#333" stroke-width="1.2"/>
<text transform="translate(314.5,328.3) scale(1,1.03)" font-size="13.5" text-anchor="middle" class="t b">-10</text>
<line x1="433.0" y1="303" x2="433.0" y2="310" stroke="#333" stroke-width="1.2"/>
<text transform="translate(433.0,328.3) scale(1,1.03)" font-size="13.5" text-anchor="middle" class="t b">-5</text>
<line x1="551.5" y1="303" x2="551.5" y2="310" stroke="#333" stroke-width="1.2"/>
<text transform="translate(551.5,328.3) scale(1,1.03)" font-size="13.5" text-anchor="middle" class="t b">0</text>
<line x1="670.0" y1="303" x2="670.0" y2="310" stroke="#333" stroke-width="1.2"/>
<text transform="translate(670.0,328.3) scale(1,1.03)" font-size="13.5" text-anchor="middle" class="t b">5</text>
<text x="372.9" y="356.9" font-size="16" text-anchor="middle" class="t">Change in ISI Total Score From Baseline to Month 1 / Day 31</text>
<text transform="translate(17.6,156.3) rotate(-90)" font-size="16" text-anchor="middle" class="t">Density</text>
<text x="373.2" y="389.7" font-size="16" text-anchor="middle" class="t">Treatment</text>
<line x1="218" y1="403.6" x2="271.2" y2="403.6" stroke="#231d8e" stroke-width="2"/>
<text transform="translate(276.6,407.6) scale(1.01,1.0001)" font-size="13.5" class="t b">PBO (n=495, median=-4, Q1= -7, Q3= -1)</text>
<line x1="218" y1="421.4" x2="271.2" y2="421.4" stroke="#a00c10" stroke-width="2"/>
<text transform="translate(276.6,425.1) scale(1.01,1.0001)" font-size="13.5" class="t b">LEM5 (n=558, median=-5, Q1= -9, Q3= -2)</text>
<line x1="218" y1="438.4" x2="271.2" y2="438.4" stroke="#023f3b" stroke-width="2"/>
<text transform="translate(276.6,442.4) scale(1.01,1.0001)" font-size="13.5" class="t b">LEM10 (n=539, median=-6, Q1= -10, Q3= -2)</text>
<line x1="218" y1="455.7" x2="271.2" y2="455.7" stroke="#2a1506" stroke-width="2"/>
<text transform="translate(276.6,460.2) scale(1.01,1.0001)" font-size="13.5" class="t b">ZOL (n=244, median=-6, Q1= -10, Q3= -3)</text>
</svg>
</body></html>
